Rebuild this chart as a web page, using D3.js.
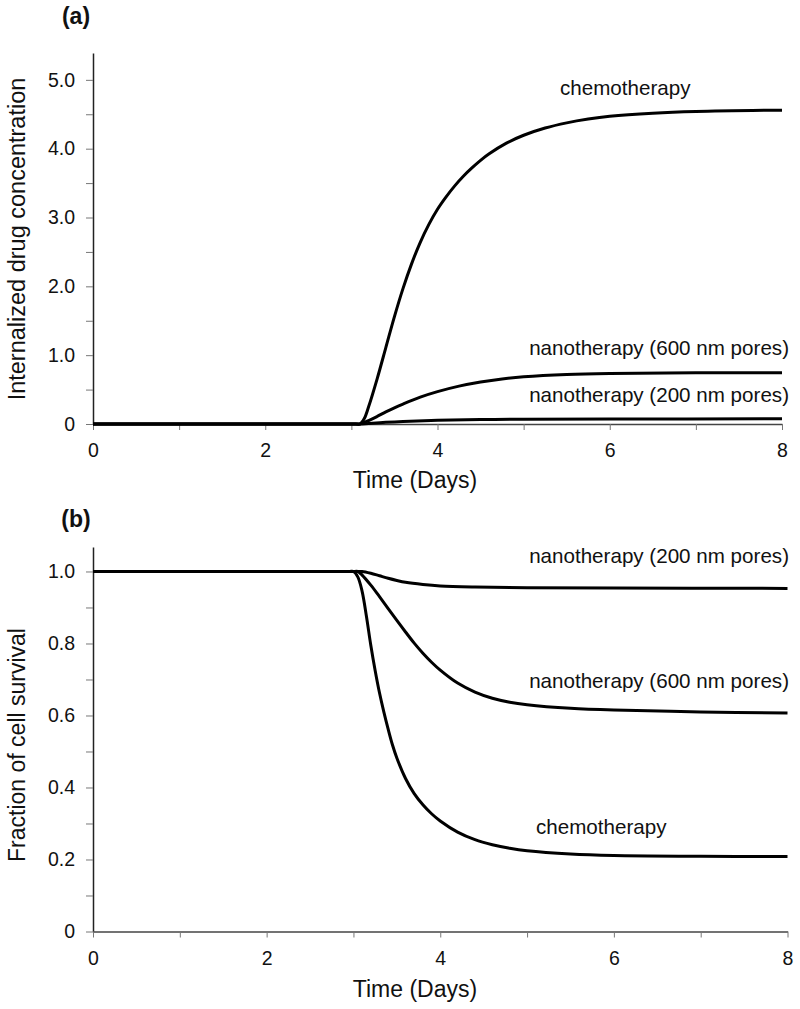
<!DOCTYPE html>
<html>
<head>
<meta charset="utf-8">
<script src="https://cdn.jsdelivr.net/npm/d3@7"></script>
<style>
  html, body { margin: 0; padding: 0; background: #fff; }
  svg { display: block; font-family: "Liberation Sans", Arial, sans-serif; }
</style>
</head>
<body>
<svg id="chart" width="800" height="1009"></svg>
<script>
// ---------- Data ----------
// Panel (a): internalized drug concentration vs time (days)
const concChemoT   = [0, 1, 2, 2.5, 2.8, 2.95, 3.05, 3.1, 3.15, 3.2, 3.3, 3.4, 3.5, 3.6, 3.7, 3.8, 3.9, 4.0, 4.1, 4.2, 4.3, 4.4, 4.5, 4.6, 4.8, 5.0, 5.25, 5.5, 5.75, 6.0, 6.5, 7.0, 8.0];
const concChemoV   = [0, 0, 0, 0, 0, 0, 0, 0, 0.08, 0.25, 0.66, 1.11, 1.56, 1.97, 2.33, 2.64, 2.9, 3.12, 3.3, 3.46, 3.6, 3.72, 3.83, 3.925, 4.08, 4.195, 4.3, 4.375, 4.43, 4.47, 4.515, 4.54, 4.56];
const conc600T     = [0, 1, 2, 2.5, 2.8, 2.95, 3.05, 3.1, 3.2, 3.3, 3.4, 3.5, 3.6, 3.8, 4.0, 4.25, 4.5, 4.75, 5.0, 5.5, 6.0, 7.0, 8.0];
const conc600V     = [0, 0, 0, 0, 0, 0, 0, 0, 0.05, 0.11, 0.175, 0.235, 0.29, 0.39, 0.47, 0.55, 0.61, 0.655, 0.685, 0.718, 0.733, 0.743, 0.745];
const conc200T     = [0, 1, 2, 2.5, 2.8, 2.95, 3.05, 3.1, 3.2, 3.4, 3.6, 4.0, 4.5, 5.0, 6.0, 8.0];
const conc200V     = [0, 0, 0, 0, 0, 0, 0, 0, 0.008, 0.025, 0.038, 0.055, 0.065, 0.07, 0.073, 0.075];

// Panel (b): fraction of cell survival vs time (days)
const survChemoT   = [0, 1, 2, 2.5, 2.75, 2.9, 2.96, 3.0, 3.05, 3.1, 3.15, 3.2, 3.25, 3.3, 3.35, 3.4, 3.45, 3.5, 3.6, 3.7, 3.8, 3.9, 4.0, 4.2, 4.4, 4.6, 4.8, 5.0, 5.5, 6.0, 7.0, 8.0];
const survChemoV   = [1, 1, 1, 1, 1, 1, 1, 1, 0.985, 0.945, 0.875, 0.795, 0.725, 0.663, 0.61, 0.562, 0.518, 0.482, 0.425, 0.383, 0.352, 0.327, 0.307, 0.276, 0.255, 0.241, 0.231, 0.224, 0.215, 0.211, 0.209, 0.208];
const surv600T     = [0, 1, 2, 2.5, 2.8, 2.95, 3.0, 3.05, 3.1, 3.2, 3.3, 3.4, 3.5, 3.6, 3.7, 3.8, 3.9, 4.0, 4.2, 4.4, 4.6, 4.8, 5.0, 5.5, 6.0, 7.0, 8.0];
const surv600V     = [1, 1, 1, 1, 1, 1, 1, 1, 0.99, 0.962, 0.93, 0.897, 0.864, 0.832, 0.801, 0.773, 0.748, 0.726, 0.69, 0.665, 0.648, 0.637, 0.63, 0.62, 0.615, 0.61, 0.607];
const surv200T     = [0, 1, 2, 2.5, 2.8, 2.95, 3.05, 3.1, 3.2, 3.3, 3.4, 3.5, 3.6, 3.8, 4.0, 4.4, 5.0, 6.0, 8.0];
const surv200V     = [1, 1, 1, 1, 1, 1, 1, 1, 0.995, 0.988, 0.981, 0.975, 0.97, 0.964, 0.96, 0.957, 0.955, 0.954, 0.953];

// Ticks
const xTicks       = [0, 1, 2, 3, 4, 5, 6, 7, 8];
const xTickLabels  = ["0", "", "2", "", "4", "", "6", "", "8"];
const concTicks    = [0, 0.5, 1, 1.5, 2, 2.5, 3, 3.5, 4, 4.5, 5];
const concLabels   = ["0", "", "1.0", "", "2.0", "", "3.0", "", "4.0", "", "5.0"];
const survTicks    = [0, 0.1, 0.2, 0.3, 0.4, 0.5, 0.6, 0.7, 0.8, 0.9, 1.0];
const survLabels   = ["0", "", "0.2", "", "0.4", "", "0.6", "", "0.8", "", "1.0"];

const seriesNames  = ["chemotherapy", "nanotherapy (600 nm pores)", "nanotherapy (200 nm pores)"];

// ---------- Drawing ----------
const svg = d3.select("#chart");

function zip(ts, vs) { return ts.map((t, i) => ({ t: t, v: vs[i] })); }

function panel(cfg) {
  const x = d3.scaleLinear().domain([0, 8]).range(cfg.xRange);
  const y = d3.scaleLinear().domain(cfg.yDomain).range(cfg.yRange);
  const g = svg.append("g");

  // y axis
  const yAxis = d3.axisLeft(y)
    .tickValues(cfg.yTicks)
    .tickFormat((d, i) => cfg.yLabels[i])
    .tickSize(7).tickSizeOuter(0).tickPadding(11);
  const ya = g.append("g").attr("transform", `translate(${cfg.xRange[0]},0)`).call(yAxis);
  ya.select(".domain").attr("stroke", "#222").attr("stroke-width", 1.5);
  ya.selectAll(".tick line").attr("stroke", "#777").attr("stroke-width", 1);
  ya.selectAll(".tick text").attr("font-size", 19.5).attr("fill", "#111")
    .attr("font-family", "Liberation Sans, Arial, sans-serif");

  // x axis
  const xAxis = d3.axisBottom(x)
    .tickValues(xTicks)
    .tickFormat((d, i) => xTickLabels[i])
    .tickSize(6).tickSizeOuter(0).tickPadding(cfg.xPad);
  const xa = g.append("g").attr("transform", `translate(0,${cfg.yRange[0]})`).call(xAxis);
  xa.select(".domain").attr("stroke", "#444").attr("stroke-width", 1.5);
  xa.selectAll(".tick line").attr("stroke", "#777").attr("stroke-width", 1);
  xa.selectAll(".tick text").attr("font-size", 19.5).attr("fill", "#111")
    .attr("font-family", "Liberation Sans, Arial, sans-serif");

  // curves
  const line = d3.line().x(d => x(d.t)).y(d => y(d.v)).curve(d3.curveCatmullRom.alpha(0.5));
  cfg.series.forEach(s => {
    g.append("path").datum(s).attr("d", line)
      .attr("fill", "none").attr("stroke", "#000").attr("stroke-width", 3)
      .attr("stroke-linejoin", "round").attr("stroke-linecap", "butt");
  });

  // labels
  cfg.labels.forEach(l => {
    g.append("text").attr("x", l.x).attr("y", l.y)
      .attr("text-anchor", l.anchor).attr("font-size", 20.6).attr("fill", "#111")
      .text(l.text);
  });

  // panel letter
  g.append("text").attr("x", 76).attr("y", cfg.letterY)
    .attr("text-anchor", "middle").attr("font-size", 23).attr("font-weight", "bold")
    .attr("fill", "#111").text(cfg.letter);

  // axis titles
  g.append("text").attr("x", 415).attr("y", cfg.xTitleY)
    .attr("text-anchor", "middle").attr("font-size", 23).attr("fill", "#111")
    .text("Time (Days)");
  g.append("text")
    .attr("transform", `translate(25,${cfg.yTitleY}) rotate(-90)`)
    .attr("text-anchor", "middle").attr("font-size", cfg.yTitleSize).attr("fill", "#111")
    .text(cfg.yTitle);
}

panel({
  xRange: [93, 782],
  yDomain: [0, 5.39],
  yRange: [424, 53],
  yTicks: concTicks,
  yLabels: concLabels,
  xPad: 13.5,
  series: [zip(concChemoT, concChemoV), zip(conc600T, conc600V), zip(conc200T, conc200V)],
  labels: [
    { text: seriesNames[0], x: 560, y: 95, anchor: "start" },
    { text: seriesNames[1], x: 789, y: 355, anchor: "end" },
    { text: seriesNames[2], x: 789, y: 402, anchor: "end" }
  ],
  letter: "(a)", letterY: 24,
  xTitleY: 488,
  yTitle: "Internalized drug concentration", yTitleY: 239, yTitleSize: 23.5
});

panel({
  xRange: [93, 787.5],
  yDomain: [0, 1.068],
  yRange: [931.5, 547],
  yTicks: survTicks,
  yLabels: survLabels,
  xPad: 14,
  series: [zip(survChemoT, survChemoV), zip(surv600T, surv600V), zip(surv200T, surv200V)],
  labels: [
    { text: seriesNames[2], x: 789, y: 563, anchor: "end" },
    { text: seriesNames[1], x: 789, y: 688, anchor: "end" },
    { text: seriesNames[0], x: 536, y: 834, anchor: "start" }
  ],
  letter: "(b)", letterY: 527,
  xTitleY: 997,
  yTitle: "Fraction of cell survival", yTitleY: 745, yTitleSize: 23
});
</script>
</body>
</html>
